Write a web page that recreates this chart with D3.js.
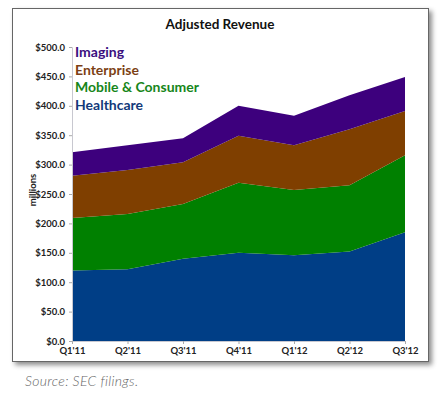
<!DOCTYPE html>
<html>
<head>
<meta charset="utf-8">
<script src="https://cdnjs.cloudflare.com/ajax/libs/d3/7.8.5/d3.min.js"></script>
<style>
  body { margin: 0; background: #fff; }
  text { font-family: Lato, "Open Sans", sans-serif; }
</style>
</head>
<body>
<div id="chart"></div>
<script>
var quarters = ["Q1'11", "Q2'11", "Q3'11", "Q4'11", "Q1'12", "Q2'12", "Q3'12"];
var healthcare = [120, 122, 140, 150, 146, 152, 185];
var mobile = [89, 94, 93, 119, 111, 113, 131];
var enterprise = [72, 75, 71, 80, 76, 95, 75];
var imaging = [40, 42, 41, 51, 50, 58, 58];
var seriesNames = ["Healthcare", "Mobile & Consumer", "Enterprise", "Imaging"];
var seriesColors = ["#003e86", "#008000", "#7f3f00", "#3d007d"];
var textColors = ["#12397a", "#17861a", "#7c3f14", "#3b0f80"];
var yTicks = [0, 50, 100, 150, 200, 250, 300, 350, 400, 450, 500];

var width = 441, height = 393;
var plot = {left: 72, right: 405, top: 47, bottom: 341};

var svg = d3.select("#chart").append("svg")
  .attr("width", width)
  .attr("height", height);

var defs = svg.append("defs");
var shadow = defs.append("filter").attr("id", "shadow")
  .attr("x", "-5%").attr("y", "-5%").attr("width", "115%").attr("height", "115%");
shadow.append("feDropShadow")
  .attr("dx", 3).attr("dy", 3).attr("stdDeviation", 2.5)
  .attr("flood-color", "#000").attr("flood-opacity", 0.45);

// frame
svg.append("rect")
  .attr("x", 12.5).attr("y", 8.5)
  .attr("width", 416).attr("height", 353)
  .attr("fill", "#fff")
  .attr("stroke", "#666")
  .attr("filter", "url(#shadow)");

svg.append("text")
  .attr("x", 220)
  .attr("y", 29)
  .attr("text-anchor", "middle")
  .attr("font-size", 13.5)
  .attr("font-weight", "bold")
  .attr("fill", "#111")
  .text("Adjusted Revenue");

var x = d3.scalePoint().domain(quarters).range([plot.left, plot.right]);
var y = d3.scaleLinear().domain([0, 500]).range([plot.bottom, plot.top]);

var rows = quarters.map(function(q, i) {
  return {q: q, "Healthcare": healthcare[i], "Mobile & Consumer": mobile[i],
          "Enterprise": enterprise[i], "Imaging": imaging[i]};
});
var stack = d3.stack().keys(seriesNames)(rows);

var area = d3.area()
  .x(function(d) { return x(d.data.q); })
  .y0(function(d) { return y(d[0]); })
  .y1(function(d) { return y(d[1]); });

svg.append("g").selectAll("path")
  .data(stack)
  .enter().append("path")
    .attr("d", area)
    .attr("fill", function(d, i) { return seriesColors[i]; });

// y axis
var yAxis = svg.append("g")
  .attr("transform", "translate(" + plot.left + ",0)")
  .call(d3.axisLeft(y).tickValues(yTicks).tickSize(3).tickPadding(4)
    .tickFormat(function(d) { return "$" + d3.format(".1f")(d); }));
yAxis.select(".domain").attr("stroke", "#c8c8d0");
yAxis.selectAll(".tick line").attr("stroke", "#aaa");
yAxis.selectAll("text")
  .attr("font-family", "Lato, sans-serif")
  .attr("font-size", 9.5)
  .attr("font-weight", "bold")
  .attr("fill", "#222");

// x axis
var xAxis = svg.append("g")
  .attr("transform", "translate(0," + plot.bottom + ")")
  .call(d3.axisBottom(x).tickSize(3).tickPadding(3));
xAxis.select(".domain").attr("stroke", "#c8c8d0");
xAxis.selectAll(".tick line").attr("stroke", "#aaa");
xAxis.selectAll("text")
  .attr("font-family", "Lato, sans-serif")
  .attr("font-size", 9.5)
  .attr("font-weight", "bold")
  .attr("fill", "#222");

svg.append("text")
  .attr("transform", "translate(36,190) rotate(-90)")
  .attr("text-anchor", "middle")
  .attr("font-size", 9.5)
  .attr("font-weight", "bold")
  .attr("fill", "#222")
  .text("millions");

// legend, top series first
var legendOrder = [3, 2, 1, 0];
svg.append("g").selectAll("text")
  .data(legendOrder)
  .enter().append("text")
    .attr("x", 75)
    .attr("y", function(d, i) { return 57 + i * 17.5; })
    .attr("font-size", 14)
    .attr("font-weight", "bold")
    .attr("fill", function(d) { return textColors[d]; })
    .text(function(d) { return seriesNames[d]; });

svg.append("text")
  .attr("x", 25)
  .attr("y", 386)
  .attr("font-family", "'Open Sans', sans-serif")
  .attr("font-size", 14)
  .attr("font-style", "italic")
  .attr("font-weight", 300)
  .attr("letter-spacing", 0.3)
  .attr("fill", "#666")
  .text("Source: SEC filings.");
</script>
</body>
</html>
